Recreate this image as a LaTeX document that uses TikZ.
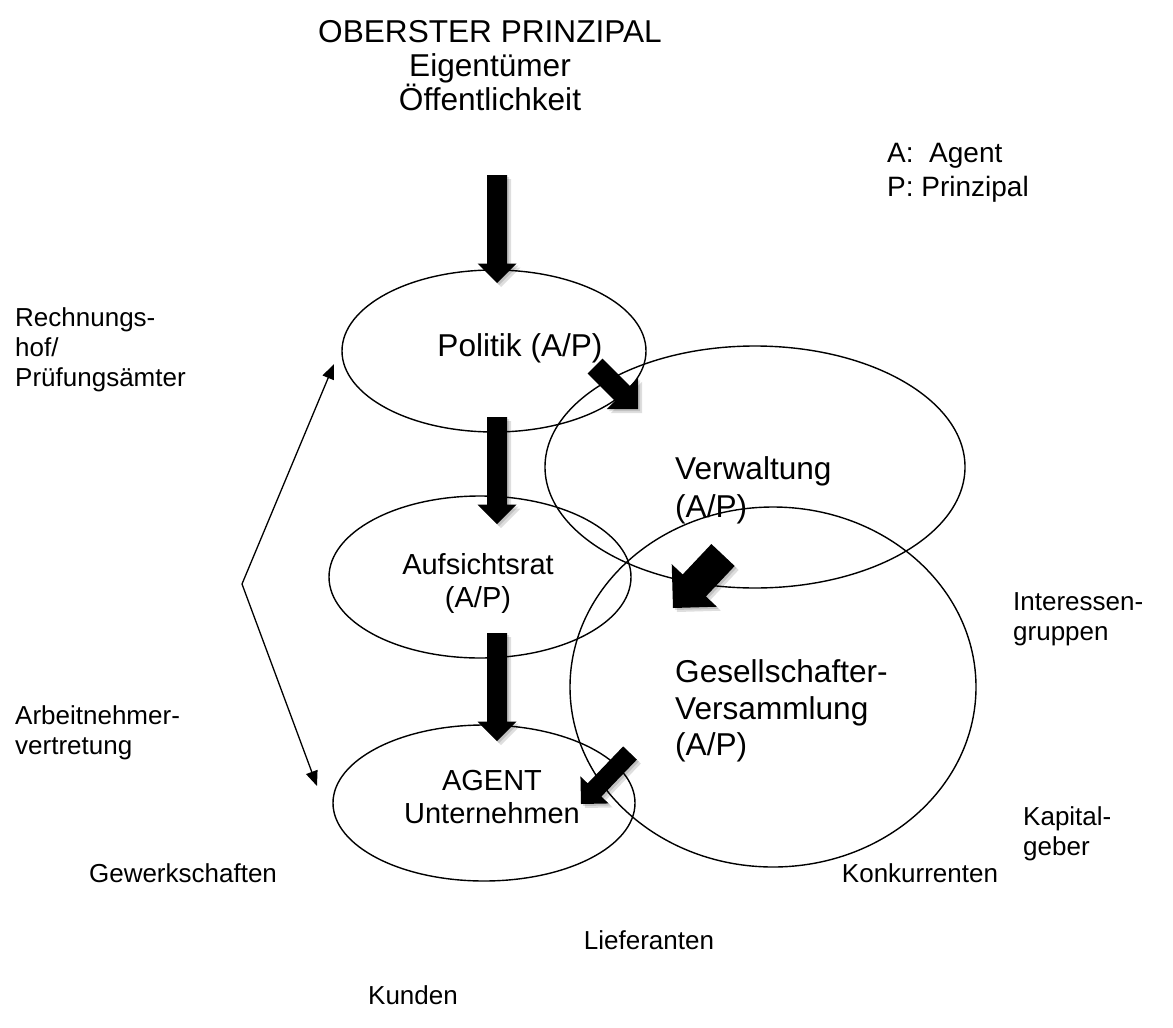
\documentclass[tikz,border=0pt]{standalone}
\usepackage{fontspec}
\setmainfont{Liberation Sans}
\usetikzlibrary{calc,arrows.meta,shapes.geometric}
\newcommand\blockarr[4]{% #1 tail, #2 tip, #3 half shaft width, #4 half head width (= head length)
  \coordinate (ba) at ($(#2)!#4!(#1)$);
  \coordinate (bc1) at ($(ba)!#4!90:(#2)$);
  \coordinate (bc2) at ($(ba)!#4!-90:(#2)$);
  \coordinate (bs1) at ($(ba)!#3!90:(#2)$);
  \coordinate (bs2) at ($(ba)!#3!-90:(#2)$);
  \coordinate (bt1) at ($(#1)!#3!90:(#2)$);
  \coordinate (bt2) at ($(#1)!#3!-90:(#2)$);
  \begin{scope}[transform canvas={shift={(4pt,-4pt)}}]
    \fill[shadowfill] (#2) -- (bc1) -- (bs1) -- (bt1) -- (bt2) -- (bs2) -- (bc2) -- cycle;
  \end{scope}
  \begin{scope}[transform canvas={shift={(2pt,-2pt)}}]
    \fill[shadowfill] (#2) -- (bc1) -- (bs1) -- (bt1) -- (bt2) -- (bs2) -- (bc2) -- cycle;
  \end{scope}
  \fill[arrowfill] (#2) -- (bc1) -- (bs1) -- (bt1) -- (bt2) -- (bs2) -- (bc2) -- cycle;
}
\begin{document}
\begin{tikzpicture}[x=1pt,y=-1pt,
  ell/.style={draw=black, line width=1.4pt, ellipse, inner sep=0pt, outer sep=0pt},
  bigtxt/.style={font=\fontsize{31.6}{34}\selectfont, inner sep=0pt},
  midtxt/.style={font=\fontsize{29}{33}\selectfont, inner sep=0pt},
  smalltxt/.style={font=\fontsize{26}{30}\selectfont, inner sep=0pt},
  legtxt/.style={font=\fontsize{28}{34}\selectfont, inner sep=0pt},
  arrowfill/.style={fill=black},
  shadowfill/.style={fill=black, opacity=0.13},
  thinarr/.style={line width=1.3pt, {Triangle[width=12pt,length=15pt]}-{Triangle[width=12pt,length=15pt]}}
]
\useasboundingbox (0,0) rectangle (1173,1028);
\fill[white] (0,0) rectangle (1173,1028);

% ellipses
\node[ell, minimum width=304pt, minimum height=162pt] (pol) at (494,351) {};
\node[ell, minimum width=420pt, minimum height=242pt] (ver) at (755,467) {};
\node[ell, minimum width=302pt, minimum height=162pt] (auf) at (480,577) {};
\node[ell, minimum width=406pt, minimum height=360pt] (ges) at (773,687) {};
\node[ell, minimum width=302pt, minimum height=156pt] (agt) at (484,803) {};

% texts
\node[bigtxt, align=center] (top) at (490,66) {OBERSTER PRINZIPAL\\Eigentümer\\Öffentlichkeit};
\node[legtxt, align=left, anchor=west] (leg) at (887,173) {A:\ \ Agent\\P: Prinzipal};
\node[bigtxt] (poltxt) at (520,348) {Politik (A/P)};
\node[bigtxt, align=left, anchor=west, font=\fontsize{31.6}{38}\selectfont] (vertxt) at (675,490) {Verwaltung\\(A/P)};
\node[midtxt, align=center] (auftxt) at (478,583) {Aufsichtsrat\\(A/P)};
\node[bigtxt, align=left, anchor=west, font=\fontsize{31.6}{36.5}\selectfont] (gestxt) at (675,711) {Gesellschafter-\\Versammlung\\(A/P)};
\node[midtxt, align=center] (agttxt) at (492,797) {AGENT\\Unternehmen};

\node[smalltxt, align=left, anchor=west] (rech) at (15,350) {Rechnungs-\\hof/\\Prüfungsämter};
\node[smalltxt, align=left, anchor=west] (arb) at (15,733) {Arbeitnehmer-\\vertretung};
\node[smalltxt, align=left, anchor=west] (int) at (1013,619) {Interessen-\\gruppen};
\node[smalltxt, align=left, anchor=west] (kap) at (1023,834) {Kapital-\\geber};
\node[smalltxt] (gew) at (183,873) {Gewerkschaften};
\node[smalltxt] (kon) at (920,873) {Konkurrenten};
\node[smalltxt] (lie) at (649,940) {Lieferanten};
\node[smalltxt] (kun) at (413,995) {Kunden};

% thin double arrow
\coordinate (thinA) at (334,364);
\coordinate (apex) at (242,584);
\coordinate (thinB) at (317,786);
\draw[thinarr] (thinA) -- (apex) -- (thinB);

% block arrows
\coordinate (a1t) at (497,175); \coordinate (a1h) at (497,283);
\coordinate (a2t) at (497,417); \coordinate (a2h) at (497,524);
\coordinate (a3t) at (497,633); \coordinate (a3h) at (497,741);
\coordinate (a4t) at (595,366); \coordinate (a4h) at (638,409);
\coordinate (a5t) at (723,555); \coordinate (a5h) at (673,608);
\coordinate (a6t) at (630,753); \coordinate (a6h) at (581,804);
\blockarr{a1t}{a1h}{10pt}{19.5pt}
\blockarr{a2t}{a2h}{10pt}{19.5pt}
\blockarr{a3t}{a3h}{10pt}{19.5pt}
\blockarr{a4t}{a4h}{10.5pt}{22pt}
\blockarr{a5t}{a5h}{16pt}{31pt}
\blockarr{a6t}{a6h}{9.5pt}{19.5pt}
\end{tikzpicture}
\end{document}
